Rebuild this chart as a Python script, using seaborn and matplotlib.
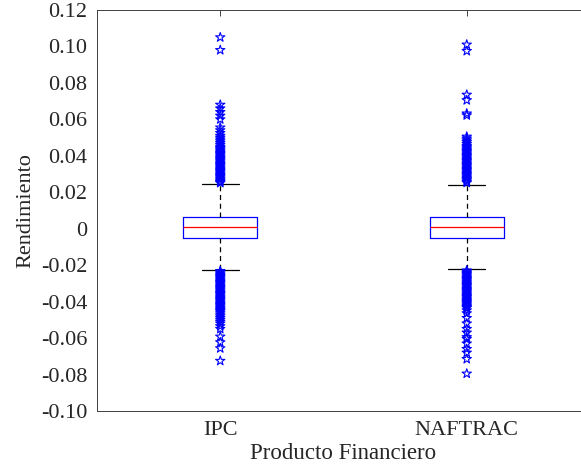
import numpy as np
import pandas as pd
import matplotlib
matplotlib.use("Agg")
import matplotlib.pyplot as plt
import seaborn as sns

products = ["IPC", "NAFTRAC"]

# five-number summaries: lower whisker, Q1, median, Q3, upper whisker
ipc_summary = [-0.0226, -0.0049, 0.0009, 0.0066, 0.0246]
naftrac_summary = [-0.0222, -0.0050, 0.0008, 0.0065, 0.0242]

ipc_outliers = [
    0.105, 0.098, 0.068, 0.066, 0.064, 0.062, 0.060,
    0.0555, 0.054, 0.0525, 0.051, 0.0500, 0.049, 0.048, 0.047, 0.046,
    0.045, 0.0443, 0.0436, 0.043, 0.0423, 0.0416, 0.041, 0.0403, 0.0396,
    0.039, 0.0383, 0.0376, 0.037, 0.0363, 0.0356, 0.035, 0.0343, 0.0336,
    0.033, 0.0323, 0.0316, 0.031, 0.0303, 0.0296, 0.029, 0.0283, 0.0276,
    0.027, 0.0263, 0.0256, 0.0251,
    -0.0232, -0.0238, -0.0245, -0.0252, -0.0258, -0.0265, -0.0272, -0.0278,
    -0.0285, -0.0292, -0.0298, -0.0305, -0.0312, -0.0318, -0.0325, -0.0332,
    -0.0338, -0.0345, -0.0352, -0.0358, -0.0365, -0.0372, -0.0378, -0.0385,
    -0.0392, -0.0398, -0.0405, -0.0412, -0.0418, -0.0425, -0.0432, -0.0438,
    -0.0445, -0.0452, -0.046, -0.047, -0.048, -0.049, -0.050, -0.051,
    -0.052, -0.0535, -0.055, -0.0592, -0.0623, -0.0656, -0.0725,
]

naftrac_outliers = [
    0.101, 0.0975, 0.0735, 0.0705, 0.0632, 0.0622,
    0.0505, 0.0495, 0.0485, 0.0475, 0.0465, 0.0455,
    0.0448, 0.0441, 0.0434, 0.0427, 0.042, 0.0413, 0.0406, 0.0399, 0.0392,
    0.0385, 0.0378, 0.0371, 0.0364, 0.0357, 0.035, 0.0343, 0.0336, 0.0329,
    0.0322, 0.0315, 0.0308, 0.0301, 0.0294, 0.0287, 0.028, 0.0273, 0.0266,
    0.0259, 0.0252,
    -0.0229, -0.0235, -0.0242, -0.0249, -0.0255, -0.0262, -0.0269, -0.0275,
    -0.0282, -0.0289, -0.0295, -0.0302, -0.0309, -0.0315, -0.0322, -0.0329,
    -0.0335, -0.0342, -0.0349, -0.0355, -0.0362, -0.0369, -0.0375, -0.0382,
    -0.0389, -0.0395, -0.0402, -0.0409, -0.0415, -0.0422, -0.0429, -0.0435,
    -0.0448, -0.0464, -0.049, -0.052, -0.055, -0.057, -0.0595, -0.0605,
    -0.063, -0.066, -0.068, -0.0715, -0.0795,
]

ytick_values = [-0.10, -0.08, -0.06, -0.04, -0.02, 0.0, 0.02, 0.04, 0.06, 0.08, 0.10, 0.12]
ytick_labels = ["-0.10", "-0.08", "-0.06", "-0.04", "-0.02", "0",
                "0.02", "0.04", "0.06", "0.08", "0.10", "0.12"]

sns.set_theme(style="white")
plt.rcParams["font.family"] = ["Liberation Serif", "DejaVu Serif"]

fig = plt.figure(figsize=(5.81, 4.65), dpi=100)
ax = fig.add_axes([97 / 581, 54 / 465, 493 / 581, 401 / 465])

box_df = pd.DataFrame({
    "Producto": np.repeat(products, 5),
    "Rendimiento": ipc_summary + naftrac_summary,
})
out_df = pd.DataFrame({
    "Producto": ["IPC"] * len(ipc_outliers) + ["NAFTRAC"] * len(naftrac_outliers),
    "Rendimiento": ipc_outliers + naftrac_outliers,
})

sns.boxplot(
    data=box_df, x="Producto", y="Rendimiento", order=products,
    whis=np.inf, width=0.3, fill=False, showfliers=False, color="blue",
    linewidth=0.9,
    boxprops=dict(color="blue"),
    medianprops=dict(color="red"),
    whiskerprops=dict(color="black", linestyle=(0, (4, 3))),
    capprops=dict(color="black"),
    ax=ax,
)

sns.stripplot(
    data=out_df, x="Producto", y="Rendimiento", order=products,
    jitter=False, marker="*", size=7, color="blue",
    facecolor="none", edgecolor="blue", linewidth=0.8, ax=ax,
)
for coll in ax.collections:
    coll.set_facecolor("none")
    coll.set_edgecolor("blue")

ax.set_xlim(-0.5, 1.5)
ax.set_ylim(-0.10, 0.12)
ax.set_yticks(ytick_values, ytick_labels)
ax.tick_params(direction="in", top=True, right=True, length=4, width=0.6,
               labelsize=16, pad=7, colors="#262626")
for s in ax.spines.values():
    s.set_color("#404040")
    s.set_linewidth(0.7)
ax.spines["right"].set_visible(False)
ax.set_xlabel("Producto Financiero", fontsize=16.5, color="#262626", labelpad=2)
ax.set_ylabel("Rendimiento", fontsize=16, color="#262626", labelpad=4)

fig.savefig("out.png", dpi=100)
